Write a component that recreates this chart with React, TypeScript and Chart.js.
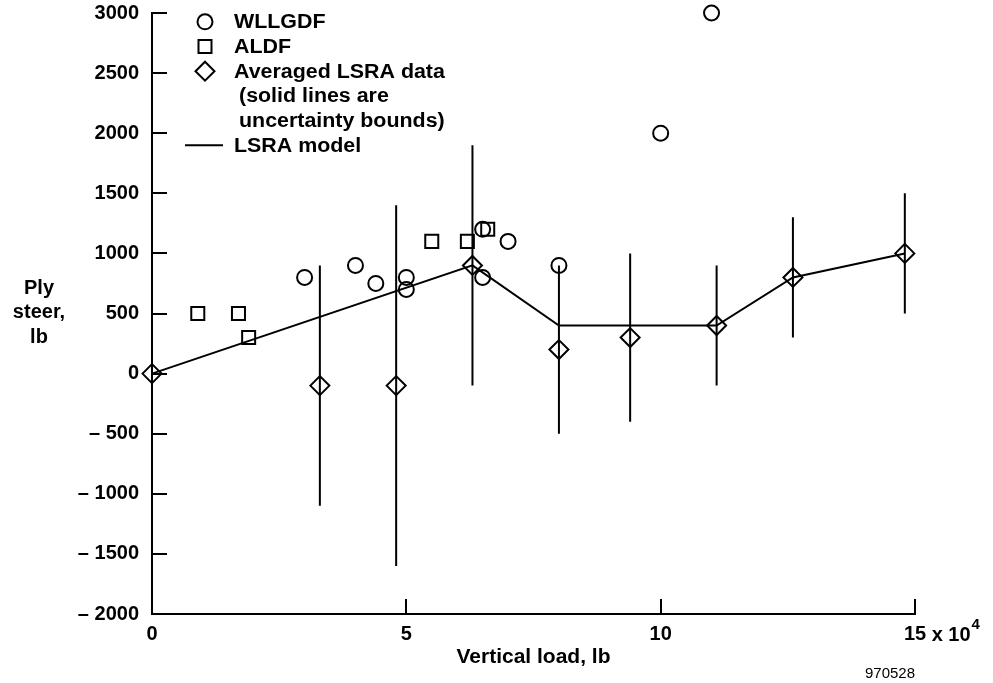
import React, { useEffect, useRef } from 'react';
import { Chart, registerables } from 'chart.js';

Chart.register(...registerables);

// ---- data (x in units of 10^4 lb, y in lb) ----
const wllgdfX = [3, 4, 4.4, 5, 5, 6.5, 6.5, 7, 8, 10, 11];
const wllgdfY = [800, 900, 750, 800, 700, 1200, 800, 1100, 900, 2000, 3000];

const aldfX = [0.9, 1.7, 1.9, 5.5, 6.2, 6.6];
const aldfY = [500, 500, 300, 1100, 1100, 1200];

const lsraX = [0, 3.3, 4.8, 6.3, 8, 9.4, 11.1, 12.6, 14.8];
const lsraY = [0, -100, -100, 900, 200, 300, 400, 800, 1000];
const lsraLow: (number | null)[] = [null, -1100, -1600, -100, -500, -400, -100, 300, 500];
const lsraHigh: (number | null)[] = [null, 900, 1400, 1900, 900, 1000, 900, 1300, 1500];

const modelX = [0, 6.3, 8, 11.1, 12.6, 14.8];
const modelY = [0, 900, 400, 400, 800, 1000];

const xTicks = [0, 5, 10, 15];
const xTickLabels = ['0', '5', '10', '15'];
const yTicks = [-2000, -1500, -1000, -500, 0, 500, 1000, 1500, 2000, 2500, 3000];
const yTickLabels = ['\u2013 2000', '\u2013 1500', '\u2013 1000', '\u2013 500', '0', '500', '1000', '1500', '2000', '2500', '3000'];

const legendLabels = ['WLLGDF', 'ALDF', 'Averaged LSRA data', '(solid lines are', 'uncertainty bounds)', 'LSRA model'];
const xTitle = 'Vertical load, lb';
const yTitleLines = ['Ply', 'steer,', 'lb'];
const xExponentText = 'x 10';
const xExponent = '4';
const figureId = '970528';

const FONT = "'Liberation Sans', Arial, Helvetica, sans-serif";
const W = 993;
const H = 683;

function stretchedText(ctx: CanvasRenderingContext2D, t: string, x: number, y: number, sx: number) {
  ctx.save();
  ctx.translate(x, y);
  ctx.scale(sx, 1);
  ctx.fillText(t, 0, 0);
  ctx.restore();
}

const decorPlugin = {
  id: 'decor',
  afterDraw(chart: any) {
    const ctx: CanvasRenderingContext2D = chart.ctx;
    const xs = chart.scales.x;
    const ys = chart.scales.y;
    const { left, right, top, bottom } = chart.chartArea;
    ctx.save();
    ctx.strokeStyle = '#000';
    ctx.fillStyle = '#000';
    ctx.lineWidth = 2;
    // inward ticks
    yTicks.forEach((v) => {
      if (v === yTicks[0]) return;
      const py = Math.round(ys.getPixelForValue(v));
      ctx.beginPath();
      ctx.moveTo(left, py);
      ctx.lineTo(left + 15, py);
      ctx.stroke();
    });
    xTicks.forEach((v) => {
      if (v === xTicks[0]) return;
      const px = Math.round(xs.getPixelForValue(v));
      ctx.beginPath();
      ctx.moveTo(px, bottom);
      ctx.lineTo(px, bottom - 15);
      ctx.stroke();
    });

    // exponent after last x tick label
    ctx.font = `bold 20px ${FONT}`;
    ctx.textBaseline = 'alphabetic';
    ctx.textAlign = 'left';
    const lastPx = xs.getPixelForValue(xTicks[xTicks.length - 1]);
    const lastW = ctx.measureText(xTickLabels[xTickLabels.length - 1]).width;
    const ex = lastPx + lastW / 2 + ctx.measureText(' ').width;
    ctx.fillText(xExponentText, ex, bottom + 27);
    const ew = ctx.measureText(xExponentText).width;
    ctx.font = `bold 15px ${FONT}`;
    ctx.fillText(xExponent, ex + ew + 1, bottom + 15);

    // x title
    ctx.font = `bold 20px ${FONT}`;
    ctx.textAlign = 'center';
    stretchedText(ctx, xTitle, (left + right) / 2, bottom + 49, 1.05);

    // y title
    const mid = (top + bottom) / 2;
    yTitleLines.forEach((t, i) => {
      ctx.fillText(t, 39, mid - 20 + i * 24.5);
    });

    // figure id
    ctx.font = `15px ${FONT}`;
    ctx.textAlign = 'right';
    ctx.fillText(figureId, right, H - 5);

    // legend
    ctx.font = `bold 20px ${FONT}`;
    ctx.textAlign = 'left';
    const lx = 205;
    const tx = 234;
    const base0 = 28.3;
    const step = 24.7;
    const sx = 1.07;
    ctx.lineWidth = 2;
    // circle
    ctx.beginPath();
    ctx.arc(lx, base0 - 6.5, 7.5, 0, Math.PI * 2);
    ctx.stroke();
    stretchedText(ctx, legendLabels[0], tx, base0, sx);
    // square
    ctx.beginPath();
    ctx.rect(lx - 6.5, base0 + step - 13, 13, 13);
    ctx.stroke();
    stretchedText(ctx, legendLabels[1], tx, base0 + step, sx);
    // diamond
    const dy = base0 + 2 * step - 6.5;
    ctx.beginPath();
    ctx.moveTo(lx - 9.5, dy);
    ctx.lineTo(lx, dy - 9.5);
    ctx.lineTo(lx + 9.5, dy);
    ctx.lineTo(lx, dy + 9.5);
    ctx.closePath();
    ctx.stroke();
    stretchedText(ctx, legendLabels[2], tx, base0 + 2 * step, sx);
    stretchedText(ctx, legendLabels[3], tx + 5, base0 + 3 * step, sx);
    stretchedText(ctx, legendLabels[4], tx + 5, base0 + 4 * step, sx);
    // line
    const ly = base0 + 5 * step - 6.5;
    ctx.beginPath();
    ctx.moveTo(185, ly);
    ctx.lineTo(223, ly);
    ctx.stroke();
    stretchedText(ctx, legendLabels[5], tx, base0 + 5 * step, sx);
    ctx.restore();
  },
};

export default function App() {
  const ref = useRef<HTMLCanvasElement | null>(null);

  useEffect(() => {
    if (!ref.current) return;
    const errData: { x: number; y: number | null }[] = [];
    lsraX.forEach((x, i) => {
      const lo = lsraLow[i];
      const hi = lsraHigh[i];
      if (lo === null || hi === null) return;
      errData.push({ x, y: lo }, { x, y: hi }, { x, y: null });
    });
    const transparent = 'rgba(0,0,0,0)';
    const chart = new Chart(ref.current, {
      type: 'scatter',
      data: {
        datasets: [
          {
            label: 'LSRA model',
            data: modelX.map((x, i) => ({ x, y: modelY[i] })),
            showLine: true,
            borderColor: '#000',
            borderWidth: 2,
            pointRadius: 0,
            clip: false,
          } as any,
          {
            label: 'uncertainty bounds',
            data: errData,
            showLine: true,
            spanGaps: false,
            borderColor: '#000',
            borderWidth: 2,
            pointRadius: 0,
            clip: false,
          } as any,
          {
            label: 'Averaged LSRA data',
            data: lsraX.map((x, i) => ({ x, y: lsraY[i] })),
            pointStyle: 'rectRot',
            pointRadius: 9.5,
            borderColor: '#000',
            borderWidth: 2,
            backgroundColor: transparent,
            clip: false,
          } as any,
          {
            label: 'WLLGDF',
            data: wllgdfX.map((x, i) => ({ x, y: wllgdfY[i] })),
            pointStyle: 'circle',
            pointRadius: 7.5,
            borderColor: '#000',
            borderWidth: 2,
            backgroundColor: transparent,
            clip: false,
          } as any,
          {
            label: 'ALDF',
            data: aldfX.map((x, i) => ({ x, y: aldfY[i] })),
            pointStyle: 'rect',
            pointRadius: 9.2,
            borderColor: '#000',
            borderWidth: 2,
            backgroundColor: transparent,
            clip: false,
          } as any,
        ],
      },
      options: {
        animation: false,
        responsive: false,
        devicePixelRatio: 1,
        events: [],
        layout: { padding: { left: 0, top: 13, right: 78, bottom: 0 } },
        plugins: { legend: { display: false }, tooltip: { enabled: false } },
        scales: {
          x: {
            type: 'linear',
            min: 0,
            max: 15,
            afterBuildTicks: (s: any) => {
              s.ticks = xTicks.map((v) => ({ value: v }));
            },
            afterFit: (s: any) => {
              s.height = 69;
              s.paddingLeft = 0;
              s.paddingRight = 0;
            },
            grid: { display: false, drawTicks: false },
            border: { display: true, color: '#000', width: 2 },
            ticks: {
              color: '#000',
              font: { family: FONT, size: 20, weight: 'bold' },
              padding: 8,
              maxRotation: 0,
              autoSkip: false,
              callback: (v: any) => {
                const i = xTicks.indexOf(Number(v));
                return i >= 0 ? xTickLabels[i] : '';
              },
            },
          },
          y: {
            type: 'linear',
            min: -2000,
            max: 3000,
            afterBuildTicks: (s: any) => {
              s.ticks = yTicks.map((v) => ({ value: v }));
            },
            afterFit: (s: any) => {
              s.width = 152;
              s.paddingTop = 0;
              s.paddingBottom = 0;
            },
            grid: { display: false, drawTicks: false },
            border: { display: true, color: '#000', width: 2 },
            ticks: {
              color: '#000',
              font: { family: FONT, size: 20, weight: 'bold' },
              padding: 13,
              autoSkip: false,
              callback: (v: any) => {
                const i = yTicks.indexOf(Number(v));
                return i >= 0 ? yTickLabels[i] : '';
              },
            },
          },
        },
      } as any,
      plugins: [decorPlugin],
    });
    return () => chart.destroy();
  }, []);

  return (
    <div style={{ position: 'fixed', left: 0, top: 0, width: W, height: H, background: '#fff' }}>
      <canvas ref={ref} width={W} height={H} style={{ display: 'block' }} />
    </div>
  );
}
